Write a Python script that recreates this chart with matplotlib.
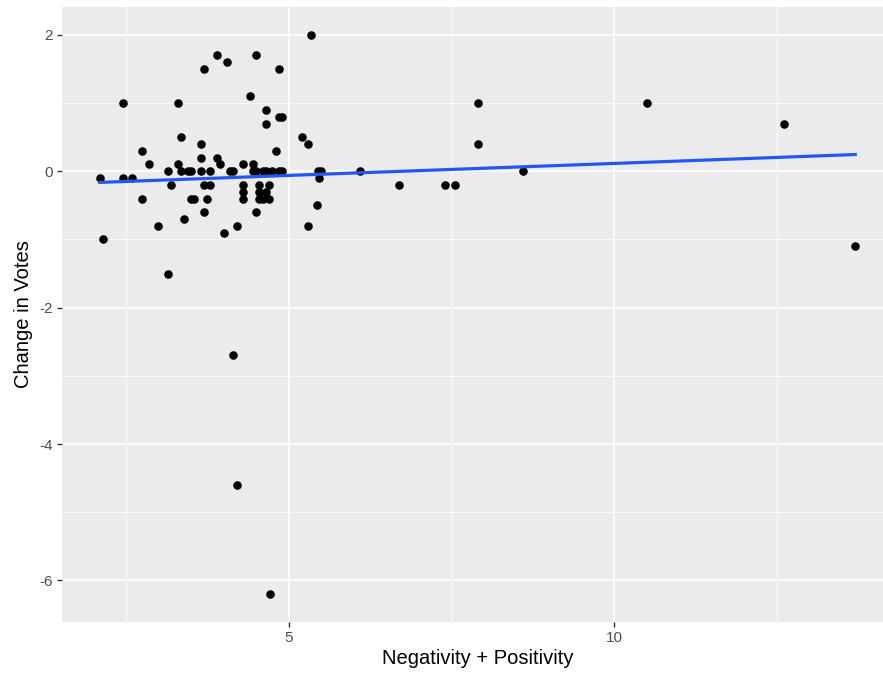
import matplotlib
matplotlib.use("Agg")
import matplotlib.pyplot as plt
import numpy as np

# values
neg_pos = [2.1, 2.15, 2.45, 2.45, 2.6, 2.75, 2.85, 2.75, 3.0, 3.15,
           3.15, 3.2, 3.3, 3.3, 3.35, 3.35, 3.4, 3.45, 3.5, 3.5,
           3.55, 3.65, 3.65, 3.65, 3.7, 3.7, 3.7, 3.75, 3.8, 3.8,
           3.9, 3.9, 3.95, 4.0, 4.05, 4.1, 4.15, 4.15, 4.2, 4.2,
           4.3, 4.3, 4.3, 4.3, 4.4, 4.45, 4.45, 4.5, 4.5, 4.5,
           4.55, 4.55, 4.55, 4.6, 4.6, 4.65, 4.65, 4.65, 4.65, 4.7,
           4.7, 4.72, 4.75, 4.8, 4.85, 4.85, 4.85, 4.9, 4.9, 5.2,
           5.3, 5.3, 5.35, 5.43, 5.45, 5.47, 5.5, 6.1, 6.7, 7.4,
           7.55, 7.9, 7.9, 8.6, 10.5, 12.6, 13.7]
vote_change = [-0.1, -1.0, 1.0, -0.1, -0.1, 0.3, 0.1, -0.4, -0.8, -1.5,
               0.0, -0.2, 1.0, 0.1, 0.5, 0.0, -0.7, 0.0, 0.0, -0.4,
               -0.4, 0.4, 0.2, 0.0, 1.5, -0.2, -0.6, -0.4, -0.2, 0.0,
               1.7, 0.2, 0.1, -0.9, 1.6, 0.0, 0.0, -2.7, -0.8, -4.6,
               0.1, -0.2, -0.3, -0.4, 1.1, 0.0, 0.1, 1.7, 0.0, -0.6,
               -0.2, -0.3, -0.4, 0.0, -0.4, 0.9, 0.7, -0.3, 0.0, -0.2,
               -0.4, -6.2, 0.0, 0.3, 0.8, 1.5, 0.0, 0.8, 0.0, 0.5,
               0.4, -0.8, 2.0, -0.5, 0.0, -0.1, 0.0, 0.0, -0.2, -0.2,
               -0.2, 1.0, 0.4, 0.0, 1.0, 0.7, -1.1]

x = np.array(neg_pos)
y = np.array(vote_change)

plt.rcParams['font.family'] = ['Liberation Sans', 'DejaVu Sans']
plt.rcParams['axes.unicode_minus'] = False

fig = plt.figure(figsize=(8.83, 6.78), dpi=100)
# panel runs off the right edge like the cropped original
ax = fig.add_axes([62 / 883, 1 - 622 / 678, 831 / 883, 615 / 678])
ax.set_facecolor('#EBEBEB')
for s in ax.spines.values():
    s.set_visible(False)

ax.scatter(x, y, s=38, color='black', zorder=3, linewidths=0)

# linear fit (geom_smooth method = lm)
slope, icpt = np.polyfit(x, y, 1)
xs = np.linspace(x.min(), x.max(), 50)
ax.plot(xs, icpt + slope * xs, color='#2457F0', lw=2.3, zorder=4)

xr = x.max() - x.min()
yr = y.max() - y.min()
ax.set_xlim(x.min() - 0.05 * xr, x.max() + 0.05 * xr)
ax.set_ylim(y.min() - 0.05 * yr, y.max() + 0.05 * yr)

ax.set_xticks([5, 10])
ax.set_yticks([-6, -4, -2, 0, 2])
ax.set_xticks([2.5, 7.5, 12.5], minor=True)
ax.set_yticks([-5, -3, -1, 1], minor=True)
ax.grid(True, which='major', color='white', lw=1.1)
ax.grid(True, which='minor', color='white', lw=0.55)
ax.set_axisbelow(True)
ax.tick_params(which='major', length=3.5, width=1, color='#333333',
               labelcolor='#4D4D4D', labelsize=11, pad=3)
ax.tick_params(which='minor', length=0)

ax.set_xlabel('Negativity + Positivity', fontsize=14.5, labelpad=3)
ax.set_ylabel('Change in Votes', fontsize=14.5, labelpad=5)

fig.savefig('out.png', dpi=100)
